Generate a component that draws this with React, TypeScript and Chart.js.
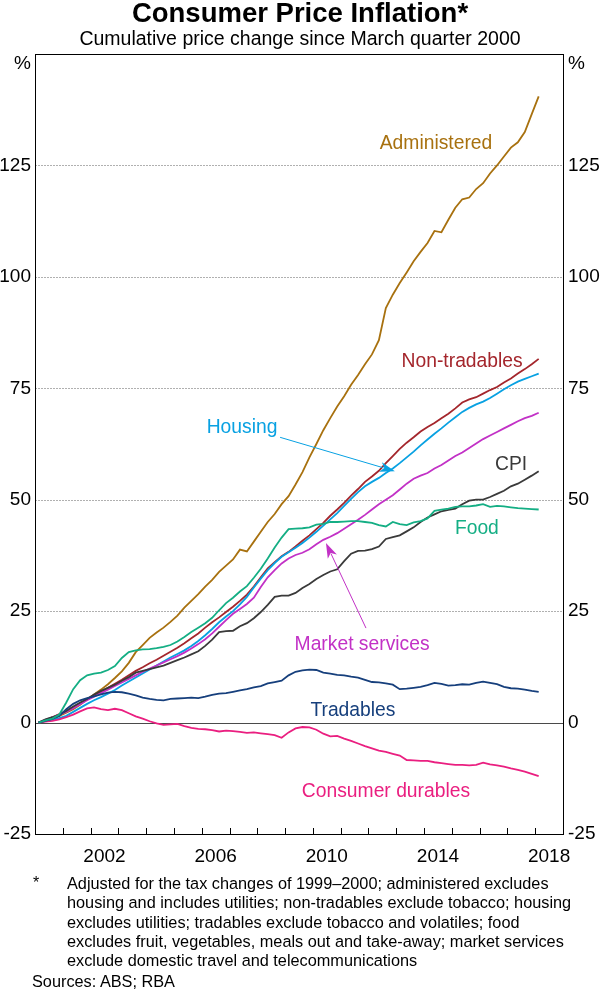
import React, { useEffect, useRef } from 'react';
import { Chart, registerables } from 'chart.js';

Chart.register(...registerables);

const FONT = '"Liberation Sans", Arial, Helvetica, sans-serif';

// ---- time axis (quarterly, March quarter 2000 to March quarter 2018) ----
const firstYear = 2000;
const quarterCount = 73;
const quarterDates = Array.from({ length: quarterCount }, (_, i) => firstYear + (i + 0.5) / 4);

const xMin = 2000;
const xMax = 2019;
const xLabelYears = [2002, 2006, 2010, 2014, 2018];
const xTickYears = [2001, 2002, 2003, 2004, 2005, 2006, 2007, 2008, 2009, 2010, 2011, 2012, 2013, 2014, 2015, 2016, 2017, 2018];

const yMin = -25;
const yMax = 150;
const yTicks = [-25, 0, 25, 50, 75, 100, 125, 150];

// ---- series (cumulative % change since March quarter 2000) ----
const administered = [
  0, 0.4, 0.9, 1.5, 2.2, 3.0, 4.0, 5.2, 6.3, 7.4, 8.6, 10.0,
  11.5, 13.4, 15.8, 17.4, 19.0, 20.2, 21.3, 22.6, 24.0, 25.8, 27.3, 28.8,
  30.5, 32.0, 33.8, 35.2, 36.6, 38.8, 38.4, 40.6, 42.8, 45.0, 46.8, 49.0,
  50.8, 53.4, 56.2, 59.5, 62.5, 65.6, 68.3, 70.9, 73.2, 75.8, 78.0, 80.4,
  82.6, 85.8, 93.0, 96.0, 98.6, 101.0, 103.5, 105.6, 107.6, 110.3, 110.0, 112.8,
  115.5, 117.4, 117.8, 119.7, 121.0, 123.2, 125.0, 127.0, 129.0, 130.2, 132.5, 136.5,
  140.5,
];
const nonTradables = [
  0, 0.5, 1.2, 1.9, 2.6, 3.4, 4.3, 5.2, 6.0, 6.9, 7.8, 8.7,
  9.6, 10.6, 11.6, 12.4, 13.3, 14.1, 15.0, 15.9, 16.8, 17.8, 18.9, 20.0,
  21.3, 22.5, 23.6, 24.8, 26.0, 27.3, 28.7, 30.5, 32.6, 34.6, 36.0, 37.3,
  38.3, 39.5, 40.8, 42.0, 43.4, 44.8, 46.4, 47.8, 49.3, 50.9, 52.4, 54.0,
  55.2, 56.5, 58.2, 59.8, 61.4, 62.8, 64.0, 65.3, 66.3, 67.2, 68.3, 69.3,
  70.5, 71.8, 72.5, 73.0, 73.8, 74.6, 75.3, 76.3, 77.2, 78.3, 79.3, 80.4,
  81.6,
];
const housing = [
  0, 0.3, 0.6, 1.0, 1.5, 2.4, 3.3, 4.2, 5.0, 5.7, 6.5, 7.3,
  8.3, 9.2, 10.1, 11.0, 11.9, 12.8, 13.7, 14.6, 15.4, 16.2, 17.2, 18.3,
  19.6, 21.0, 22.5, 23.8, 25.0, 26.5, 28.2, 30.3, 32.3, 34.2, 35.8, 37.2,
  38.2, 39.2, 40.3, 41.5, 42.8, 44.2, 45.6, 47.0, 48.6, 50.2, 51.7, 53.0,
  54.0, 54.9, 56.0, 57.0, 58.2, 59.5, 60.8, 62.2, 63.5, 64.8, 66.0, 67.3,
  68.5, 69.7, 70.6, 71.4, 72.0, 72.8, 73.8, 74.8, 75.7, 76.5, 77.1, 77.7,
  78.3,
];
const marketServices = [
  0, 0.6, 1.2, 1.8, 2.4, 3.2, 4.1, 5.0, 5.8, 6.6, 7.4, 8.2,
  9.0, 9.8, 10.6, 11.4, 12.1, 12.8, 13.5, 14.2, 14.9, 15.7, 16.6, 17.6,
  18.7, 20.0, 21.5, 23.0, 24.4, 25.5, 26.6, 28.0, 30.4, 32.6, 34.2, 35.7,
  36.8, 37.6, 38.1, 38.9, 40.0, 41.0, 41.7, 42.5, 43.5, 44.5, 45.5, 46.6,
  47.8, 49.0, 50.0, 51.0, 52.3, 53.6, 54.7, 55.4, 56.0, 57.0, 57.8, 58.8,
  59.8, 60.6, 61.6, 62.6, 63.6, 64.4, 65.2, 66.0, 66.8, 67.6, 68.3, 68.8,
  69.5,
];
const cpi = [
  0, 0.7, 1.2, 1.8, 2.6, 3.6, 4.5, 5.3, 6.3, 7.1, 7.8, 8.5,
  9.4, 10.2, 11.2, 11.6, 12.0, 12.4, 12.8, 13.4, 14.0, 14.6, 15.3, 16.0,
  17.2, 18.6, 20.3, 20.5, 20.6, 21.6, 22.3, 23.4, 24.8, 26.4, 28.2, 28.5,
  28.5, 29.1, 30.2, 31.1, 32.2, 33.1, 33.9, 34.4, 36.2, 37.9, 38.5, 38.6,
  38.9, 39.5, 41.2, 41.6, 42.0, 42.9, 43.8, 45.0, 46.0, 46.7, 47.4, 47.7,
  48.0, 49.0, 49.8, 50.0, 50.0, 50.6, 51.3, 52.0, 53.0, 53.6, 54.5, 55.4,
  56.4,
];
const food = [
  0, 0.5, 0.9, 1.8, 4.5, 7.5, 9.5, 10.6, 11.0, 11.2, 11.8, 12.7,
  14.5, 15.8, 16.2, 16.4, 16.5, 16.7, 17.0, 17.4, 18.2, 19.2, 20.3, 21.3,
  22.3, 23.5, 25.2, 26.8, 28.0, 29.4, 30.6, 32.5, 34.5, 36.8, 39.3, 41.5,
  43.4, 43.5, 43.6, 43.8, 44.4, 44.6, 45.0, 45.0, 45.1, 45.2, 45.2, 45.0,
  44.8, 44.3, 44.0, 45.0, 44.5, 44.3, 44.9, 45.2, 45.8, 47.5, 47.8, 48.0,
  48.4, 48.5, 48.5, 48.7, 49.0, 48.4, 48.6, 48.5, 48.3, 48.1, 48.0, 47.9,
  47.8,
];
const tradables = [
  0, 0.4, 0.8, 1.5, 3.0, 4.2, 5.0, 5.5, 5.9, 6.3, 6.7, 6.9,
  6.8, 6.5, 6.1, 5.6, 5.3, 5.1, 5.0, 5.3, 5.4, 5.5, 5.6, 5.5,
  5.8, 6.2, 6.5, 6.6, 6.9, 7.2, 7.5, 7.9, 8.2, 8.8, 9.1, 9.4,
  10.6, 11.4, 11.7, 11.9, 11.8, 11.2, 11.0, 10.7, 10.6, 10.3, 10.1, 9.6,
  9.1, 9.0, 8.8, 8.5, 7.5, 7.6, 7.8, 8.0, 8.4, 8.9, 8.7, 8.3,
  8.4, 8.6, 8.5, 8.9, 9.2, 8.9, 8.6, 8.0, 7.7, 7.6, 7.4, 7.1,
  6.9,
];
const consumerDurables = [
  0, 0.2, 0.4, 0.7, 1.2, 1.8, 2.5, 3.2, 3.4, 3.0, 2.8, 3.1,
  2.8, 2.1, 1.4, 0.9, 0.3, -0.2, -0.5, -0.4, -0.3, -0.8, -1.2, -1.4,
  -1.5, -1.7, -2.0, -1.8, -1.9, -2.1, -2.3, -2.2, -2.4, -2.6, -2.8, -3.4,
  -2.2, -1.3, -1.0, -1.1, -1.6, -2.5, -3.1, -3.0, -3.6, -4.1, -4.7, -5.3,
  -5.8, -6.3, -6.6, -7.0, -7.4, -8.4, -8.5, -8.6, -8.6, -8.9, -9.1, -9.3,
  -9.5, -9.5, -9.6, -9.5, -9.0, -9.4, -9.6, -9.9, -10.3, -10.6, -11.0, -11.5,
  -12.0,
];

const seriesNames = ['Food', 'Tradables', 'Consumer durables', 'CPI', 'Market services', 'Housing', 'Non-tradables', 'Administered'];
const seriesValues = [food, tradables, consumerDurables, cpi, marketServices, housing, nonTradables, administered];
const seriesColors = ['#14AE84', '#163F7C', '#EA1F80', '#3A3A3A', '#C231C6', '#08A1E2', '#A4262C', '#A8710F'];

// series label anchors in data units (year, %) – text baseline
const labelNames = ['Administered', 'Non-tradables', 'Housing', 'CPI', 'Food', 'Market services', 'Tradables', 'Consumer durables'];
const labelYears = [2014.43, 2015.37, 2007.45, 2017.13, 2015.9, 2011.77, 2011.44, 2012.63];
const labelValues = [128.7, 79.8, 64.9, 56.6, 42.4, 16.2, 1.46, -16.7];

// leader arrows in data units: from -> to
const arrowSeries = ['Housing', 'Market services'];
const arrowFrom = [[2008.82, 64.0], [2011.91, 21.2]];
const arrowTo = [[2012.95, 56.4], [2010.47, 40.3]];

const colorOf = (name: string) => seriesColors[seriesNames.indexOf(name)];

const overlayPlugin = {
  id: 'overlay',
  beforeDatasetsDraw(chart: any) {
    const { ctx, chartArea: a, scales } = chart;
    const y = scales.y;
    ctx.save();
    yTicks.forEach((v) => {
      if (v === yMin || v === yMax) return;
      const py = Math.round(y.getPixelForValue(v)) + 0.5;
      ctx.beginPath();
      if (v === 0) {
        ctx.strokeStyle = '#4a4a4a';
        ctx.lineWidth = 1.2;
        ctx.setLineDash([]);
      } else {
        ctx.strokeStyle = '#b0b0b0';
        ctx.lineWidth = 1;
        ctx.setLineDash([2, 1]);
      }
      ctx.moveTo(a.left, py);
      ctx.lineTo(a.right, py);
      ctx.stroke();
    });
    ctx.restore();
  },
  afterDatasetsDraw(chart: any) {
    const { ctx, chartArea: a, scales } = chart;
    const x = scales.x;
    const y = scales.y;
    ctx.save();
    ctx.setLineDash([]);
    ctx.strokeStyle = '#000';
    ctx.lineWidth = 1;
    xTickYears.forEach((yr) => {
      const px = Math.round(x.getPixelForValue(yr)) + 0.5;
      ctx.beginPath();
      ctx.moveTo(px, a.bottom);
      ctx.lineTo(px, a.bottom - 6);
      ctx.stroke();
    });
    ctx.strokeRect(Math.round(a.left) + 0.5, Math.round(a.top) + 0.5, Math.round(a.right - a.left), Math.round(a.bottom - a.top));

    ctx.font = `19px ${FONT}`;
    ctx.fillStyle = '#000';
    ctx.textBaseline = 'alphabetic';
    ctx.textAlign = 'right';
    ctx.fillText('%', a.left - 4, a.top + 15);
    ctx.textAlign = 'left';
    ctx.fillText('%', a.right + 5, a.top + 15);

    arrowSeries.forEach((name, i) => {
      const col = colorOf(name);
      const x0 = x.getPixelForValue(arrowFrom[i][0]);
      const y0 = y.getPixelForValue(arrowFrom[i][1]);
      const x1 = x.getPixelForValue(arrowTo[i][0]);
      const y1 = y.getPixelForValue(arrowTo[i][1]);
      const ang = Math.atan2(y1 - y0, x1 - x0);
      const L = 15;
      const W = 5;
      const bx = x1 - L * Math.cos(ang);
      const by = y1 - L * Math.sin(ang);
      ctx.strokeStyle = col;
      ctx.lineWidth = 1;
      ctx.beginPath();
      ctx.moveTo(x0, y0);
      ctx.lineTo(bx + 3 * Math.cos(ang), by + 3 * Math.sin(ang));
      ctx.stroke();
      ctx.fillStyle = col;
      ctx.beginPath();
      ctx.moveTo(x1, y1);
      ctx.lineTo(bx + W * Math.sin(ang), by - W * Math.cos(ang));
      ctx.lineTo(bx + 4 * Math.cos(ang), by + 4 * Math.sin(ang));
      ctx.lineTo(bx - W * Math.sin(ang), by + W * Math.cos(ang));
      ctx.closePath();
      ctx.fill();
    });

    ctx.font = `19.3px ${FONT}`;
    ctx.textAlign = 'center';
    ctx.textBaseline = 'alphabetic';
    labelNames.forEach((name, i) => {
      ctx.fillStyle = colorOf(name);
      ctx.fillText(name, x.getPixelForValue(labelYears[i]), y.getPixelForValue(labelValues[i]));
    });
    ctx.restore();
  },
};

const tickFont = { family: FONT, size: 19 };

function yAxis(position: 'left' | 'right', width: number) {
  return {
    type: 'linear' as const,
    position,
    min: yMin,
    max: yMax,
    afterBuildTicks: (s: any) => {
      s.ticks = yTicks.map((v) => ({ value: v }));
    },
    afterFit: (s: any) => {
      s.width = width;
    },
    grid: { display: false, drawTicks: false },
    border: { display: false },
    ticks: {
      font: tickFont,
      color: '#000',
      padding: position === 'left' ? 4 : 5,
      autoSkip: false,
      callback: (v: any) => (v === yMax ? '' : String(v)),
    },
  };
}

export default function App() {
  const canvasRef = useRef<HTMLCanvasElement | null>(null);

  useEffect(() => {
    if (!canvasRef.current) return;
    const datasets = seriesNames.map((name, si) => ({
      label: name,
      data: seriesValues[si].map((v, i) => ({ x: quarterDates[i], y: v })),
      borderColor: seriesColors[si],
      backgroundColor: seriesColors[si],
      borderWidth: 1.8,
      pointRadius: 0,
      tension: 0,
      fill: false,
      yAxisID: 'y',
    }));
    const chart = new Chart(canvasRef.current, {
      type: 'line',
      data: { datasets },
      plugins: [overlayPlugin],
      options: {
        animation: false,
        responsive: true,
        maintainAspectRatio: false,
        layout: { padding: { top: 54, bottom: 117, left: 0, right: 0 } },
        plugins: {
          legend: { display: false },
          tooltip: { enabled: false },
          title: { display: false },
        },
        scales: {
          x: {
            type: 'linear',
            min: xMin,
            max: xMax,
            afterBuildTicks: (s: any) => {
              s.ticks = xLabelYears.map((yr) => ({ value: yr + 0.5 }));
            },
            afterFit: (s: any) => {
              s.height = 40;
            },
            grid: { display: false, drawTicks: false },
            border: { display: false },
            ticks: {
              font: tickFont,
              color: '#000',
              padding: 11,
              autoSkip: false,
              maxRotation: 0,
              callback: (v: any) => String(Math.floor(v)),
            },
          },
          y: yAxis('left', 35),
          y2: yAxis('right', 37),
        } as any,
      },
    });
    return () => chart.destroy();
  }, []);

  const footLines = [
    'Adjusted for the tax changes of 1999\u20132000; administered excludes',
    'housing and includes utilities; non-tradables exclude tobacco; housing',
    'excludes utilities; tradables exclude tobacco and volatiles; food',
    'excludes fruit, vegetables, meals out and take-away; market services',
    'exclude domestic travel and telecommunications',
  ];

  return (
    <div style={{ position: 'absolute', left: 0, top: 0, width: 600, height: 991, background: '#fff', fontFamily: FONT, color: '#000', overflow: 'hidden' }}>
      <div style={{ position: 'absolute', left: 0, top: 0, width: 600, height: 991 }}>
        <canvas ref={canvasRef} />
      </div>
      <div style={{ position: 'absolute', left: 0, top: -1, width: 600, textAlign: 'center', fontSize: 27.5, lineHeight: '27.5px', fontWeight: 'bold', whiteSpace: 'nowrap' }}>
        Consumer Price Inflation*
      </div>
      <div style={{ position: 'absolute', left: 0, top: 28.5, width: 600, textAlign: 'center', fontSize: 19.5, lineHeight: '19.5px', whiteSpace: 'nowrap' }}>
        Cumulative price change since March quarter 2000
      </div>
      <div style={{ position: 'absolute', left: 33, top: 873, fontSize: 16, lineHeight: '19.3px' }}>*</div>
      <div style={{ position: 'absolute', left: 67, top: 874, fontSize: 16.3, lineHeight: '19.3px', whiteSpace: 'nowrap' }}>
        {footLines.map((l, i) => (
          <div key={i}>{l}</div>
        ))}
      </div>
      <div style={{ position: 'absolute', left: 32, top: 971.5, fontSize: 16.3, lineHeight: '19.3px', whiteSpace: 'nowrap' }}>
        Sources: ABS; RBA
      </div>
    </div>
  );
}
